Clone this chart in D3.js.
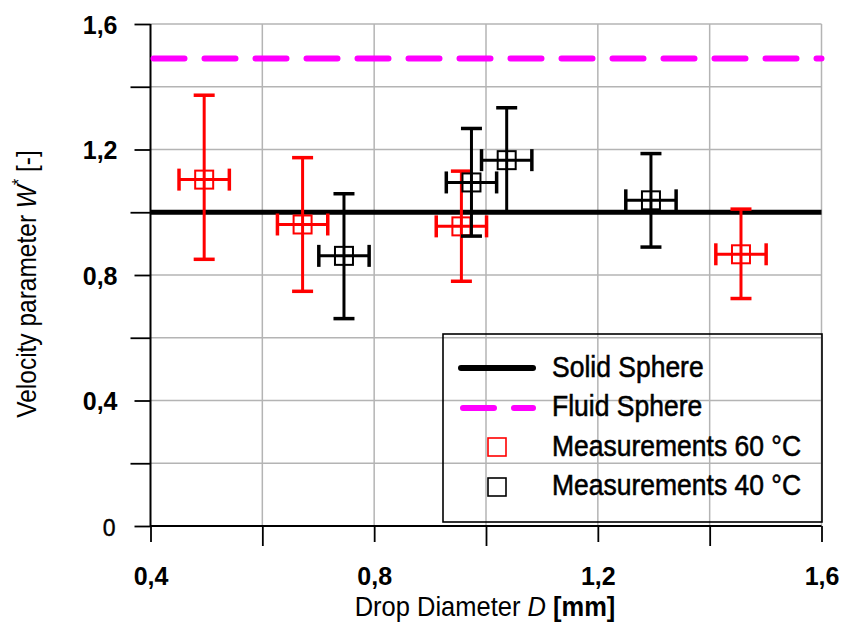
<!DOCTYPE html>
<html>
<head>
<meta charset="utf-8">
<script src="https://cdn.jsdelivr.net/npm/d3@7"></script>
<style>
  body { margin: 0; background: #fff; }
  svg { display: block; font-family: "Liberation Sans", Arial, sans-serif; }
</style>
</head>
<body>
<div id="chart"></div>
<script>
// chart data
var xTicks = [0.4, 0.6, 0.8, 1.0, 1.2, 1.4, 1.6];
var yTicks = [0, 0.2, 0.4, 0.6, 0.8, 1.0, 1.2, 1.4, 1.6];
var xLabelled = [0.4, 0.8, 1.2, 1.6];
var yLabelled = [0.4, 0.8, 1.2, 1.6];

var solidSphere = 1.0;
var fluidSphere = 1.49;

// Measurements 60 °C (red)
var d60 = [0.496, 0.672, 0.956, 1.456];
var w60 = [1.104, 0.961, 0.955, 0.866];
var w60Hi = [1.373, 1.174, 1.131, 1.01];
var w60Lo = [0.850, 0.748, 0.780, 0.725];

// Measurements 40 °C (black)
var d40 = [0.746, 0.974, 1.037, 1.295];
var w40 = [0.861, 1.095, 1.166, 1.038];
var w40Hi = [1.059, 1.267, 1.333, 1.187];
var w40Lo = [0.661, 0.924, 1.0, 0.889];

var dErr = 0.045;

var legendLabels = ["Solid Sphere", "Fluid Sphere", "Measurements 60 °C", "Measurements 40 °C"];

const svgWidth = 843, svgHeight = 623;
const svg = d3.select("#chart").append("svg")
  .attr("width", svgWidth)
  .attr("height", svgHeight);

var x = d3.scaleLinear().domain([0.4, 1.6]).range([150.5, 821.5]);
var y = d3.scaleLinear().domain([0, 1.6]).range([526, 24]);

var fmt = d => d3.format(".1f")(d).replace(".", ",");

// grid
svg.append("g").selectAll("line").data(xTicks.slice(1)).enter().append("line")
  .attr("x1", d => x(d)).attr("x2", d => x(d))
  .attr("y1", y(1.6)).attr("y2", y(0))
  .attr("stroke", "#b4b4b4").attr("stroke-width", 1.5);
svg.append("g").selectAll("line").data(yTicks.slice(1)).enter().append("line")
  .attr("x1", x(0.4)).attr("x2", x(1.6))
  .attr("y1", d => y(d)).attr("y2", d => y(d))
  .attr("stroke", "#b4b4b4").attr("stroke-width", 1.5);

// axes
var xAxis = d3.axisBottom(x).tickValues(xTicks).tickFormat("").tickSize(0);
var gx = svg.append("g").attr("transform", `translate(0, ${y(0)})`).call(xAxis);
gx.select(".domain").remove();
gx.selectAll(".tick line").remove();
gx.selectAll(".tick text").remove();
gx.selectAll(".tick").append("line")
  .attr("y1", 0).attr("y2", d => xLabelled.includes(d) ? 16 : 20)
  .attr("stroke", "#000").attr("stroke-width", 1.8);
gx.selectAll(".tick").filter(d => xLabelled.includes(d)).append("text")
  .attr("y", 59).attr("text-anchor", "middle")
  .attr("fill", "#000").attr("font-size", 25).attr("font-weight", "bold")
  .text(d => fmt(d));

var yAxis = d3.axisLeft(y).tickValues(yTicks).tickFormat("").tickSize(0);
var gy = svg.append("g").attr("transform", `translate(${x(0.4)}, 0)`).call(yAxis);
gy.select(".domain").remove();
gy.selectAll(".tick line").remove();
gy.selectAll(".tick text").remove();
gy.selectAll(".tick").append("line")
  .attr("x1", d => (yLabelled.includes(d) || d === 0) ? -16 : -20).attr("x2", 0)
  .attr("stroke", "#000").attr("stroke-width", 1.8);
gy.selectAll(".tick").filter(d => yLabelled.includes(d)).append("text")
  .attr("x", -33).attr("y", 9).attr("text-anchor", "end")
  .attr("fill", "#000").attr("font-size", 25).attr("font-weight", "bold")
  .text(d => fmt(d));
// plain zero at the origin
gy.selectAll(".tick").filter(d => d === 0).append("text")
  .attr("x", -35).attr("y", 9).attr("text-anchor", "end")
  .attr("font-size", 23).attr("fill", "#000")
  .attr("stroke", "#000").attr("stroke-width", 0.4)
  .text("0");

// axis lines
svg.append("line")
  .attr("x1", x(0.4)).attr("x2", x(0.4)).attr("y1", y(1.6)).attr("y2", y(0))
  .attr("stroke", "#000").attr("stroke-width", 2);
svg.append("line")
  .attr("x1", x(0.4)).attr("x2", x(1.6)).attr("y1", y(0)).attr("y2", y(0))
  .attr("stroke", "#000").attr("stroke-width", 2);

// axis titles
var yTitle = svg.append("text")
  .attr("transform", "translate(36, 284) rotate(-90) scale(1, 1.12)")
  .attr("text-anchor", "middle").attr("font-size", 24.5);
yTitle.append("tspan").text("Velocity parameter ");
yTitle.append("tspan").attr("font-style", "italic").text("W");
yTitle.append("tspan").attr("font-size", 16).attr("dy", -10).text("*");
yTitle.append("tspan").attr("dy", 10).text(" [-]");

var xTitle = svg.append("text")
  .attr("transform", "translate(485, 616) scale(1, 1.1)")
  .attr("text-anchor", "middle").attr("font-size", 25.5);
xTitle.append("tspan").text("Drop Diameter ");
xTitle.append("tspan").attr("font-style", "italic").text("D");
xTitle.append("tspan").attr("font-weight", "bold").text(" [mm]");

// model lines
svg.append("line")
  .attr("x1", x(0.4)).attr("x2", x(1.6))
  .attr("y1", y(solidSphere)).attr("y2", y(solidSphere))
  .attr("stroke", "#000").attr("stroke-width", 5);
svg.append("line")
  .attr("x1", x(0.4) + 3).attr("x2", x(1.6))
  .attr("y1", y(fluidSphere)).attr("y2", y(fluidSphere))
  .attr("stroke", "#ff00ff").attr("stroke-width", 6)
  .attr("stroke-linecap", "round").attr("stroke-dasharray", "31,20");

// measurement points with error bars
function drawSeries(xs, ys, hi, lo, color) {
  var data = xs.map((d, i) => ({d: d, w: ys[i], hi: hi[i], lo: lo[i]}));
  var g = svg.append("g").selectAll("g").data(data).enter().append("g")
    .attr("stroke", color).attr("fill", "none");
  g.append("line")
    .attr("x1", d => x(d.d)).attr("x2", d => x(d.d))
    .attr("y1", d => y(d.hi)).attr("y2", d => y(d.lo)).attr("stroke-width", 3);
  g.append("line")
    .attr("x1", d => x(d.d - dErr)).attr("x2", d => x(d.d + dErr))
    .attr("y1", d => y(d.w)).attr("y2", d => y(d.w)).attr("stroke-width", 3);
  // caps
  ["hi", "lo"].forEach(function(k) {
    g.append("line")
      .attr("x1", d => x(d.d) - 10.5).attr("x2", d => x(d.d) + 10.5)
      .attr("y1", d => y(d[k])).attr("y2", d => y(d[k])).attr("stroke-width", 3.5);
  });
  [-1, 1].forEach(function(s) {
    g.append("line")
      .attr("x1", d => x(d.d + s * dErr)).attr("x2", d => x(d.d + s * dErr))
      .attr("y1", d => y(d.w) - 11).attr("y2", d => y(d.w) + 11).attr("stroke-width", 3.5);
  });
  g.append("rect")
    .attr("x", d => x(d.d) - 9).attr("y", d => y(d.w) - 9)
    .attr("width", 18).attr("height", 18).attr("stroke-width", 2);
}
drawSeries(d60, w60, w60Hi, w60Lo, "#ff0000");
drawSeries(d40, w40, w40Hi, w40Lo, "#000000");

// legend
var lg = svg.append("g");
lg.append("rect").attr("x", 443).attr("y", 334).attr("width", 379).attr("height", 188)
  .attr("fill", "none").attr("stroke", "#000").attr("stroke-width", 1.6);
lg.append("line").attr("x1", 461).attr("x2", 533).attr("y1", 368).attr("y2", 368)
  .attr("stroke", "#000").attr("stroke-width", 6).attr("stroke-linecap", "round");
lg.append("line").attr("x1", 463).attr("x2", 533).attr("y1", 408).attr("y2", 408)
  .attr("stroke", "#ff00ff").attr("stroke-width", 6)
  .attr("stroke-linecap", "round").attr("stroke-dasharray", "31,20");
lg.append("rect").attr("x", 488).attr("y", 438).attr("width", 18).attr("height", 18)
  .attr("fill", "none").attr("stroke", "#ff0000").attr("stroke-width", 1.6);
lg.append("rect").attr("x", 488).attr("y", 478).attr("width", 18).attr("height", 18)
  .attr("fill", "none").attr("stroke", "#000").attr("stroke-width", 1.6);

var legendY = [377, 416, 456, 495];
legendLabels.forEach(function(t, i) {
  lg.append("text")
    .attr("transform", `translate(552, ${legendY[i]}) scale(1, 1.1)`)
    .attr("font-size", 26.5).attr("fill", "#000")
    .attr("stroke", "#000").attr("stroke-width", 0.5)
    .text(t);
});
</script>
</body>
</html>
